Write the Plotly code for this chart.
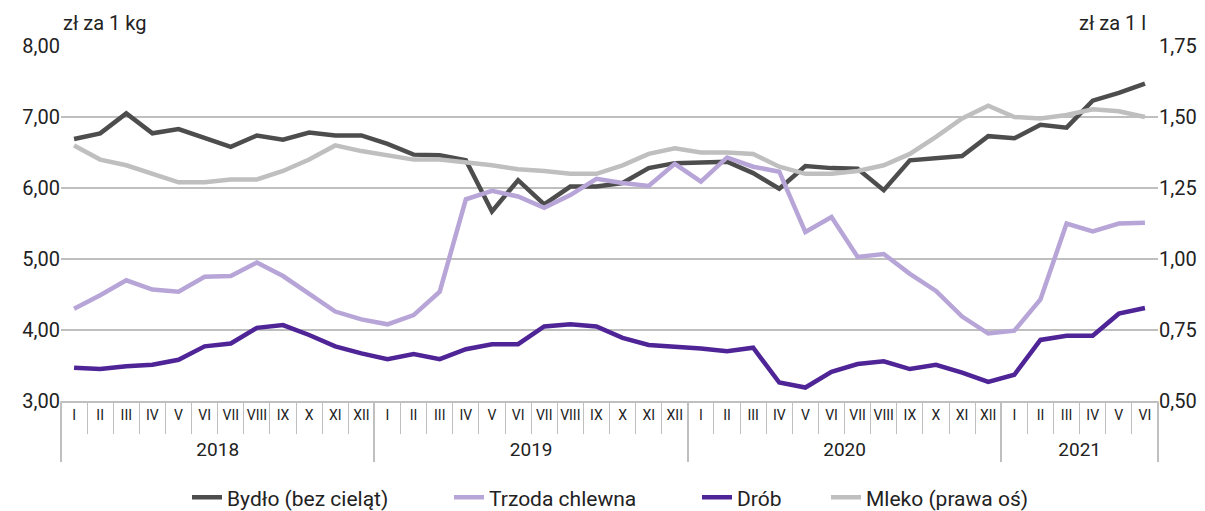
import plotly.graph_objects as go

years = ["2018"] * 12 + ["2019"] * 12 + ["2020"] * 12 + ["2021"] * 6
months_all = ["I", "II", "III", "IV", "V", "VI", "VII", "VIII", "IX", "X", "XI", "XII"]
months = months_all * 3 + months_all[:6]

bydlo = [6.69, 6.77, 7.05, 6.77, 6.83, 6.70, 6.58, 6.74, 6.68, 6.78, 6.74, 6.74,
         6.62, 6.47, 6.46, 6.39, 5.67, 6.11, 5.77, 6.02, 6.02, 6.07, 6.28, 6.35,
         6.36, 6.37, 6.21, 5.99, 6.31, 6.28, 6.27, 5.97, 6.39, 6.42, 6.45, 6.73,
         6.70, 6.89, 6.85, 7.23, 7.34, 7.47]
trzoda = [4.30, 4.49, 4.70, 4.57, 4.54, 4.75, 4.76, 4.95, 4.76, 4.51, 4.26, 4.15,
          4.08, 4.21, 4.54, 5.84, 5.96, 5.88, 5.72, 5.90, 6.13, 6.07, 6.03, 6.34,
          6.09, 6.43, 6.30, 6.23, 5.38, 5.59, 5.03, 5.07, 4.79, 4.55, 4.19, 3.95,
          3.99, 4.43, 5.50, 5.39, 5.50, 5.51]
drob = [3.47, 3.45, 3.49, 3.51, 3.58, 3.77, 3.81, 4.03, 4.07, 3.93, 3.77, 3.67,
        3.59, 3.66, 3.59, 3.73, 3.80, 3.80, 4.05, 4.08, 4.05, 3.89, 3.79, 3.77,
        3.74, 3.70, 3.75, 3.26, 3.19, 3.41, 3.52, 3.56, 3.45, 3.51, 3.40, 3.27,
        3.37, 3.86, 3.92, 3.92, 4.23, 4.31]
mleko = [1.40, 1.35, 1.33, 1.30, 1.27, 1.27, 1.28, 1.28, 1.31, 1.35, 1.40, 1.38,
         1.366, 1.35, 1.35, 1.34, 1.33, 1.316, 1.31, 1.30, 1.30, 1.33, 1.37, 1.39,
         1.375, 1.375, 1.37, 1.325, 1.30, 1.30, 1.31, 1.33, 1.37, 1.43, 1.495, 1.54,
         1.50, 1.495, 1.507, 1.527, 1.52, 1.50]

year_labels = [f"<br><span style='font-size:19px'>{y}</span>" for y in years]
x = [year_labels, months]
n = len(months)
font = "Roboto, Fira Sans, sans-serif"
TXT = "#222222"
GRID = "#bfbfbf"

fig = go.Figure()
fig.add_trace(go.Scatter(x=x, y=bydlo, name="Bydło (bez cieląt)", mode="lines",
                         line=dict(color="#4d4d4d", width=4.5), legend="legend"))
fig.add_trace(go.Scatter(x=x, y=trzoda, name="Trzoda chlewna", mode="lines",
                         line=dict(color="#b7a5d8", width=4.5), legend="legend2"))
fig.add_trace(go.Scatter(x=x, y=drob, name="Drób", mode="lines",
                         line=dict(color="#4e2496", width=4.5), legend="legend3"))
fig.add_trace(go.Scatter(x=x, y=mleko, name="Mleko (prawa oś)", mode="lines",
                         line=dict(color="#bfbfbf", width=4.5), yaxis="y2",
                         legend="legend4"))

W = 1097.0
L = 61.0


def leg(px):
    return dict(orientation="h", x=(px - L) / W, xanchor="left", yref="container",
                y=0.026, yanchor="middle", font=dict(size=21, color=TXT),
                bgcolor="rgba(0,0,0,0)")


fig.update_layout(
    width=1205, height=511,
    margin=dict(l=61, r=47, t=46, b=110, autoexpand=False),
    paper_bgcolor="white", plot_bgcolor="white",
    separators=", ",
    font=dict(family=font, size=19, color=TXT),
    showlegend=True,
    legend=leg(187), legend2=leg(449), legend3=leg(697), legend4=leg(826),
    xaxis=dict(type="multicategory", showgrid=False, automargin=False,
               range=[-0.5, n - 0.5],
               showline=True, linecolor=GRID, linewidth=1.5,
               ticks="outside", tickson="boundaries", ticklen=31, tickcolor=GRID,
               tickwidth=1.2, tickangle=0,
               showdividers=True, dividercolor=GRID, dividerwidth=1.5,
               tickfont=dict(size=14, color=TXT)),
    yaxis=dict(range=[3, 8], dtick=1, tickformat=".2f", showgrid=True,
               gridcolor=GRID, gridwidth=1.5, zeroline=False, automargin=False,
               ticks="", tickfont=dict(size=20, color=TXT)),
    yaxis2=dict(range=[0.5, 1.75], dtick=0.25, tickformat=".2f", overlaying="y",
                side="right", showgrid=False, zeroline=False, automargin=False,
                ticks="", tickfont=dict(size=20, color=TXT)),
    shapes=[
        dict(type="line", xref="paper", yref="paper", x0=0, x1=0, y0=0, y1=-0.155,
             line=dict(color=GRID, width=1.5)),
        dict(type="line", xref="paper", yref="paper", x0=1, x1=1, y0=0, y1=-0.155,
             line=dict(color=GRID, width=1.5)),
    ],
    annotations=[
        dict(text="zł za 1 kg", xref="paper", yref="paper", x=0, y=1.0, yshift=9,
             xanchor="left", yanchor="bottom", showarrow=False,
             font=dict(size=20, color=TXT)),
        dict(text="zł za 1 l", xref="paper", yref="paper", x=0.991, y=1.0, yshift=9,
             xanchor="right", yanchor="bottom", showarrow=False,
             font=dict(size=20, color=TXT)),
    ],
)

fig.write_html("out.html", config={"displayModeBar": False},
               post_script="document.body.style.margin='0';document.body.style.padding='0';")
